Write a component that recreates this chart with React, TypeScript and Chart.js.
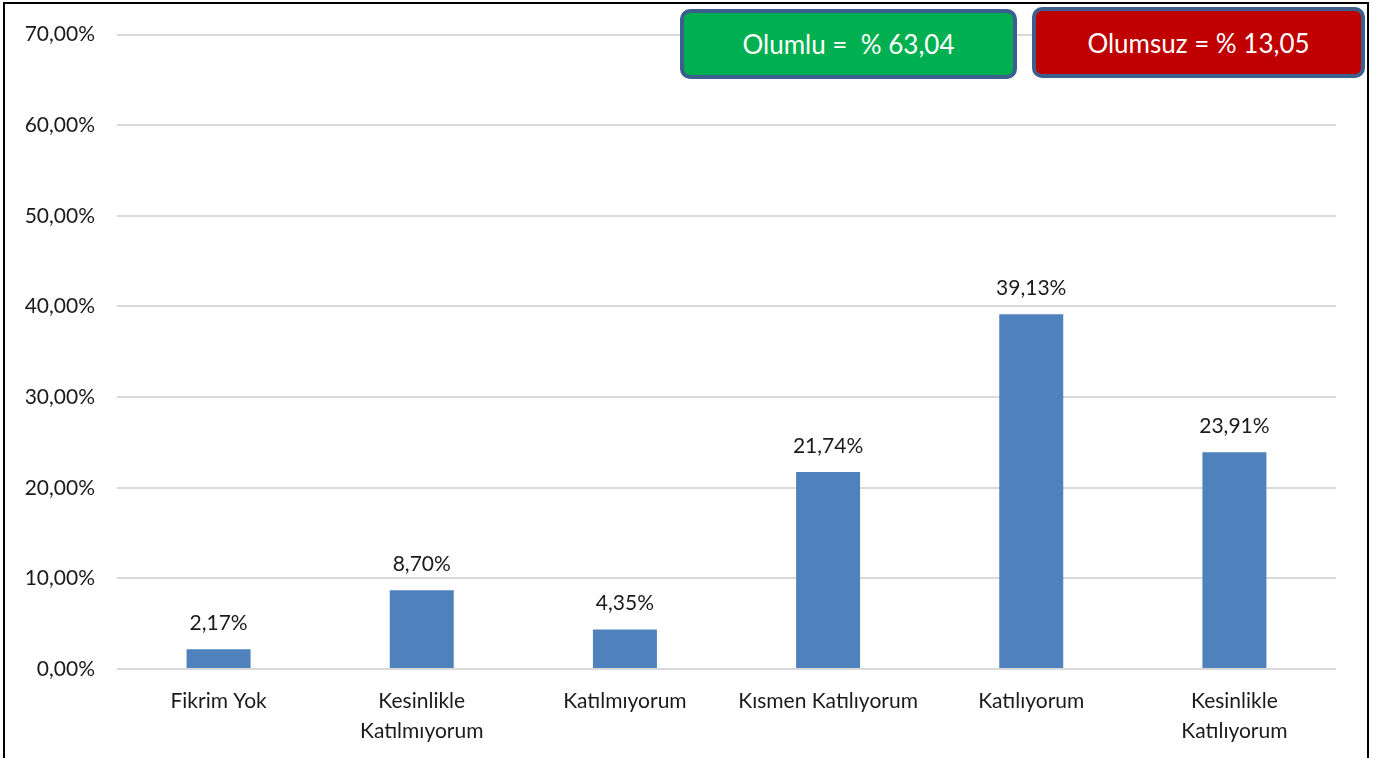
import React, { useEffect, useRef } from "react";
import { Chart, registerables } from "chart.js";

Chart.register(...registerables);

const categories: (string | string[])[] = [
  "Fikrim Yok",
  ["Kesinlikle", "Katılmıyorum"],
  "Katılmıyorum",
  "Kısmen Katılıyorum",
  "Katılıyorum",
  ["Kesinlikle", "Katılıyorum"],
];
const values: number[] = [2.17, 8.7, 4.35, 21.74, 39.13, 23.91];
const yMax = 70;
const yStep = 10;
const positiveLabel = "Olumlu =  % 63,04";
const negativeLabel = "Olumsuz = % 13,05";

const FONT = "Lato, 'Open Sans', sans-serif";
const fmt = (v: number, d: number) => v.toFixed(d).replace(".", ",") + "%";

const dataLabelPlugin = {
  id: "dataLabels",
  afterDatasetsDraw(chart: any) {
    const ctx = chart.ctx;
    const meta = chart.getDatasetMeta(0);
    ctx.save();
    ctx.fillStyle = "#1a1a1a";
    ctx.font = `21px ${FONT}`;
    ctx.textAlign = "center";
    ctx.textBaseline = "middle";
    meta.data.forEach((bar: any, i: number) => {
      ctx.fillText(fmt(values[i], 2), bar.x, bar.y - 26);
    });
    ctx.restore();
  },
};

export default function App() {
  const ref = useRef<HTMLCanvasElement>(null);
  useEffect(() => {
    document.body.style.margin = "0";
    const chart = new Chart(ref.current!, {
      type: "bar",
      data: {
        labels: categories,
        datasets: [
          {
            data: values,
            backgroundColor: "#4f81bd",
            barPercentage: 0.315,
            categoryPercentage: 1,
          },
        ],
      },
      options: {
        animation: false,
        responsive: false,
        layout: { padding: { top: 34, right: 39, left: 0, bottom: 0 } },
        plugins: { legend: { display: false }, tooltip: { enabled: false } },
        scales: {
          x: {
            grid: { display: false },
            border: { display: false },
            ticks: {
              color: "#1a1a1a",
              font: { family: FONT, size: 21, lineHeight: 1.43 },
              padding: 9,
              maxRotation: 0,
              autoSkip: false,
            },
            afterFit: (s: any) => {
              s.height = 89;
            },
          },
          y: {
            min: 0,
            max: yMax,
            ticks: {
              stepSize: yStep,
              color: "#1a1a1a",
              font: { family: FONT, size: 21 },
              padding: 22,
              callback: (v: any) => fmt(Number(v), 2),
            },
            grid: { color: "#d9d9d9", lineWidth: 2, drawTicks: false },
            border: { display: false },
            afterFit: (s: any) => {
              s.width = 117;
            },
          },
        },
      },
      plugins: [dataLabelPlugin],
    });
    return () => chart.destroy();
  }, []);

  const boxStyle = (bg: string, left: number, top: number, w: number, h: number): React.CSSProperties => ({
    position: "absolute",
    left,
    top,
    width: w,
    height: h,
    boxSizing: "border-box",
    background: bg,
    border: "4px solid #3d5f8e",
    borderRadius: 10,
    color: "#ffffff",
    fontFamily: FONT,
    fontSize: 26,
    display: "flex",
    alignItems: "center",
    justifyContent: "center",
    whiteSpace: "pre",
  });

  return (
    <div style={{ position: "relative", width: 1375, height: 758, overflow: "hidden", background: "#fff" }}>
      <canvas ref={ref} width={1375} height={758} style={{ position: "absolute", left: 0, top: 0 }} />
      <div
        style={{
          position: "absolute",
          left: 3,
          top: 2,
          width: 1366,
          height: 800,
          border: "2px solid #000",
          boxSizing: "border-box",
          pointerEvents: "none",
        }}
      />
      <div style={boxStyle("#00b050", 680, 9, 337, 70)}>{positiveLabel}</div>
      <div style={boxStyle("#c00000", 1032, 7, 333, 71)}>{negativeLabel}</div>
    </div>
  );
}
